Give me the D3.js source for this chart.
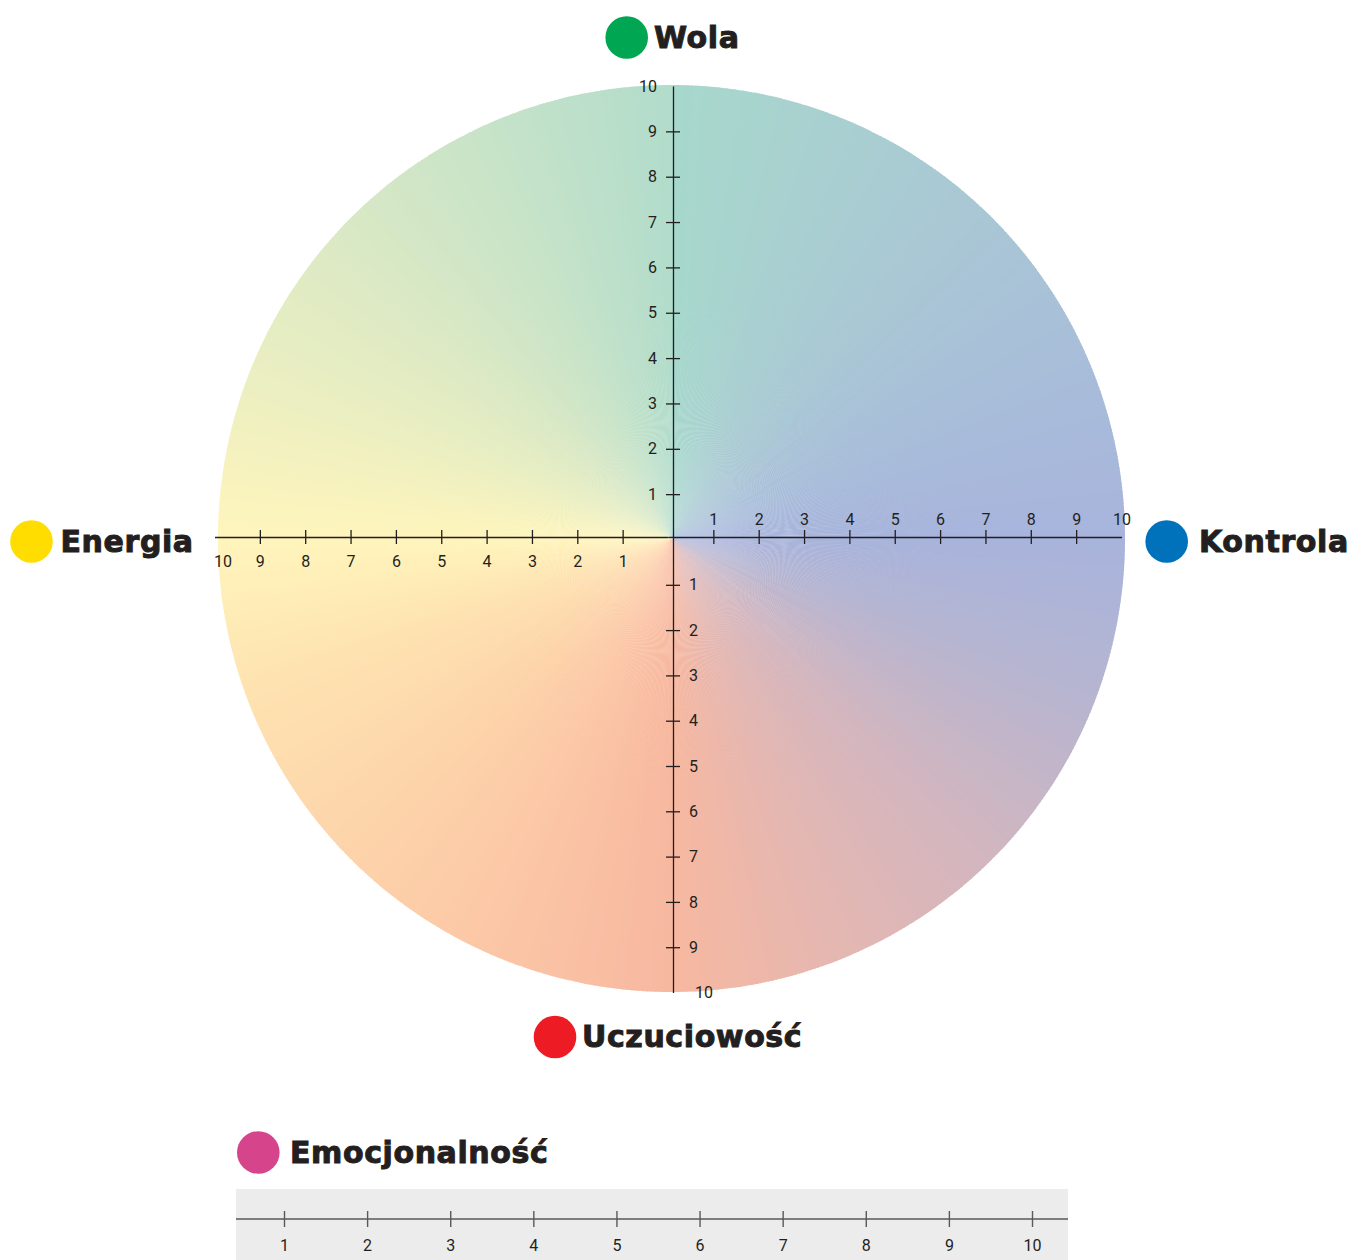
<!DOCTYPE html>
<html>
<head>
<meta charset="utf-8">
<script src="https://cdn.jsdelivr.net/npm/d3@7"></script>
<style>
  body { margin: 0; background: #fff; }
  .tick text { font-family: Roboto, "Liberation Sans", sans-serif; font-size: 16px; fill: #231f20; }
  .label { font-family: "DejaVu Sans", sans-serif; font-weight: bold; font-size: 30px; fill: #231f20;
           stroke: #231f20; stroke-width: 1; letter-spacing: 0.6px; }
</style>
</head>
<body>
<div id="app"></div>
<script>
// wartości osi (etykiety podziałki)
const tickValues = [1, 2, 3, 4, 5, 6, 7, 8, 9, 10];

// cztery kierunki koła
const categories = ["Wola", "Kontrola", "Uczuciowość", "Energia"];
const categoryColors = ["#00a651", "#0072bc", "#ed1c24", "#ffdd00"];

// osobna skala pod kołem
const bottomCategory = "Emocjonalność";
const bottomColor = "#d6448c";

// gradient stożkowy (kąt w stopniach, od góry zgodnie z zegarem)
const gradientAngles = [0, 20, 45, 70, 90, 110, 135, 160, 180, 200, 225, 250, 270, 290, 315, 340, 360];
const gradientColors = ["#a7d8cc", "#a9d0d0", "#a9c6d5", "#a8bcda", "#a8b4dc", "#b6b5d1", "#d2b6bf", "#e6b7b0", "#f7b8a0",
                        "#fbc4a5", "#fdd3aa", "#fee2b0", "#fff5bc", "#ecefc1", "#d8e8c5", "#c3e2c9", "#b2dccb"];

const width = 1352;
const height = 1260;

const svg = d3.select("#app")
  .append("svg")
  .attr("width", width)
  .attr("height", height)
  .attr("viewBox", `0 0 ${width} ${height}`);

// koło
const cx = 671.5, cy = 538.5, radius = 453.5;

const color = d3.scaleLinear()
  .domain(gradientAngles)
  .range(gradientColors)
  .interpolate(d3.interpolateRgb);

const step = 0.5;
const slices = d3.range(0, 360, step);
const arc = d3.arc().innerRadius(0).outerRadius(radius);

svg.append("g")
  .attr("transform", `translate(${cx},${cy})`)
  .selectAll("path")
  .data(slices)
  .join("path")
  .attr("d", a => arc({ startAngle: a * Math.PI / 180, endAngle: (a + step + 0.15) * Math.PI / 180 }))
  .attr("fill", a => color(a + step / 2));

// osie
const axisX = 673, axisY = 537;
const xRight = d3.scaleLinear().domain([0, 10]).range([668, 1121.5]);
const xLeft = d3.scaleLinear().domain([0, 10]).range([668, 214.5]);
const yUp = d3.scaleLinear().domain([0, 10]).range([539.5, 86]);
const yDown = d3.scaleLinear().domain([0, 10]).range([539.5, 992.5]);

const ink = "#231f20";
const tickLen = 7;

function styleAxis(g, horizontal) {
  g.select(".domain").attr("stroke", ink).attr("stroke-width", 1.3);
  g.selectAll(".tick line")
    .attr("stroke", ink)
    .attr("stroke-width", 1.3)
    .attr(horizontal ? "y1" : "x1", d => d === 10 ? 0 : tickLen)
    .attr(horizontal ? "y2" : "x2", d => d === 10 ? 0 : -tickLen);
  g.attr("font-family", null).attr("font-size", null);
}

svg.append("g")
  .attr("transform", `translate(0,${axisY})`)
  .call(d3.axisTop(xRight).tickValues(tickValues).tickSizeInner(tickLen).tickSizeOuter(0).tickPadding(5))
  .call(g => styleAxis(g, true));

svg.append("g")
  .attr("transform", `translate(0,${axisY})`)
  .call(d3.axisBottom(xLeft).tickValues(tickValues).tickSizeInner(tickLen).tickSizeOuter(0).tickPadding(12))
  .call(g => styleAxis(g, true))
  .call(g => g.selectAll(".tick text").filter(d => d === 10).attr("text-anchor", "start").attr("x", -1));

svg.append("g")
  .attr("transform", `translate(${axisX},0)`)
  .call(d3.axisLeft(yUp).tickValues(tickValues).tickSizeInner(tickLen).tickSizeOuter(0).tickPadding(9))
  .call(g => styleAxis(g, false));

svg.append("g")
  .attr("transform", `translate(${axisX},0)`)
  .call(d3.axisRight(yDown).tickValues(tickValues).tickSizeInner(tickLen).tickSizeOuter(0).tickPadding(9))
  .call(g => styleAxis(g, false))
  .call(g => g.selectAll(".tick text").filter(d => d === 10).attr("x", 22));

// podpisy kierunków
const labelPos = [
  { dx: 626.7, dy: 37.5, tx: 654, ty: 48 },      // góra
  { dx: 1166.7, dy: 541.5, tx: 1199, ty: 552 },  // prawo
  { dx: 555, dy: 1037, tx: 582, ty: 1047 },      // dół
  { dx: 31.5, dy: 541.5, tx: 60.5, ty: 552 }     // lewo
];

const labels = svg.append("g")
  .selectAll("g")
  .data(categories)
  .join("g");

labels.append("circle")
  .attr("cx", (d, i) => labelPos[i].dx)
  .attr("cy", (d, i) => labelPos[i].dy)
  .attr("r", 21.3)
  .attr("fill", (d, i) => categoryColors[i]);

labels.append("text")
  .attr("class", "label")
  .attr("x", (d, i) => labelPos[i].tx)
  .attr("y", (d, i) => labelPos[i].ty)
  .text(d => d);

// skala Emocjonalność
svg.append("circle")
  .attr("cx", 258.3)
  .attr("cy", 1152.5)
  .attr("r", 21.3)
  .attr("fill", bottomColor);

svg.append("text")
  .attr("class", "label")
  .attr("x", 290)
  .attr("y", 1163)
  .text(bottomCategory);

const stripX0 = 236, stripX1 = 1068, stripY = 1189;
svg.append("rect")
  .attr("x", stripX0)
  .attr("y", stripY)
  .attr("width", stripX1 - stripX0)
  .attr("height", height - stripY)
  .attr("fill", "#ececec");

const xb = d3.scaleLinear().domain([1, 10]).range([284, 1032]);
const lineY = 1219;

svg.append("line")
  .attr("x1", stripX0).attr("x2", stripX1)
  .attr("y1", lineY).attr("y2", lineY)
  .attr("stroke", "#58595b")
  .attr("stroke-width", 1.6);

svg.append("g")
  .attr("transform", `translate(0,${lineY})`)
  .call(d3.axisBottom(xb).tickValues(tickValues).tickSizeInner(8).tickSizeOuter(0).tickPadding(13))
  .call(g => g.select(".domain").remove())
  .call(g => g.attr("font-family", null).attr("font-size", null))
  .call(g => g.selectAll(".tick line").attr("y1", -8).attr("stroke", "#58595b").attr("stroke-width", 1.4));
</script>
</body>
</html>
